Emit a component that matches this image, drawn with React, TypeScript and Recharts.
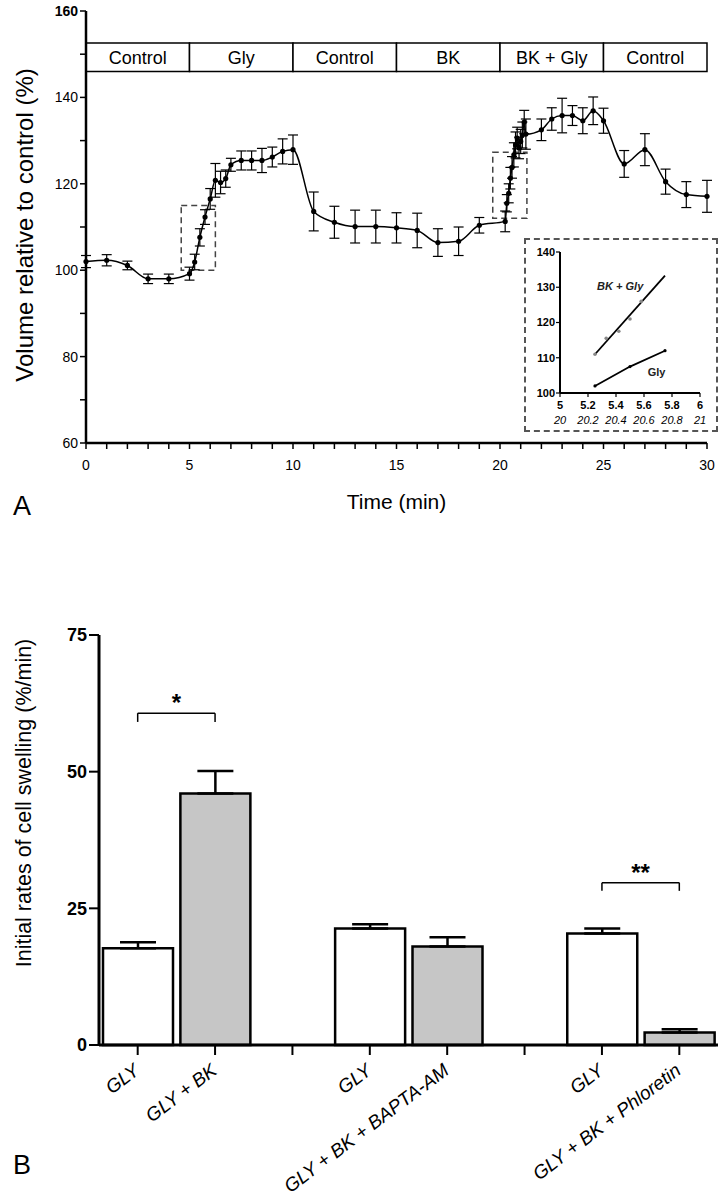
import {
  LineChart,
  Line,
  XAxis,
  YAxis,
  ErrorBar,
  ReferenceArea,
  ReferenceDot,
  ReferenceLine,
  BarChart,
  Bar,
  Cell,
} from "recharts";

// ---------------------------------------------------------------------------
// Panel A data: cell volume over time
// ---------------------------------------------------------------------------

const timeMin = [
  0, 1, 2, 3, 4, 5, 5.25, 5.5, 5.75, 6, 6.25, 6.5, 6.75, 7, 7.5, 8, 8.5, 9, 9.5, 10,
  11, 12, 13, 14, 15, 16, 17, 18, 19,
  20.25, 20.33, 20.42, 20.5, 20.58, 20.67, 20.75, 20.83, 20.92, 21, 21.08, 21.17, 21.25,
  22, 22.5, 23, 23.5, 24, 24.5, 25, 26, 27, 28, 29, 30,
];
const volumePct = [
  102.0, 102.3, 101.1, 98.0, 98.0, 99.2, 101.9, 107.6, 112.3, 116.5, 120.8, 120.3, 121.2, 124.4,
  125.4, 125.4, 125.4, 126.2, 127.5, 127.9,
  113.6, 111.1, 110.1, 110.1, 109.8, 109.2, 106.4, 106.7, 110.4,
  111.3, 115.5, 117.8, 121.3, 123.8, 126.7, 129.0, 130.6, 128.3, 129.8, 131.3, 134.3, 131.5,
  132.5, 135.0, 135.8, 135.8, 134.6, 136.9, 134.6, 124.6, 127.9, 120.5, 117.5, 117.1,
];
const volumeSem = [
  1.4, 1.3, 1.0, 1.1, 1.1, 1.5, 1.8, 2.0, 1.7, 2.4, 3.9, 2.6, 2.0, 1.5,
  2.2, 2.2, 2.8, 2.3, 2.9, 3.4,
  4.5, 3.7, 3.8, 3.8, 3.5, 4.0, 3.2, 3.3, 1.8,
  2.4, 2.0, 2.2, 2.5, 2.5, 2.8, 3.0, 2.5, 2.5, 2.8, 3.0, 2.7, 3.5,
  2.5, 2.6, 4.0, 2.3, 3.0, 3.2, 2.9, 3.1, 3.7, 2.9, 3.0, 3.7,
];

const conditionNames = ["Control", "Gly", "Control", "BK", "BK + Gly", "Control"];
const conditionStarts = [0, 5, 10, 15, 20, 25];
const conditionEnds = [5, 10, 15, 20, 25, 30];

const xTicksA = Array.from({ length: 31 }, (_, i) => i);
const yTicksA = [60, 70, 80, 90, 100, 110, 120, 130, 140, 150, 160];

// inset: linear fits of the initial swelling phase
const insetXTicks = [5, 5.2, 5.4, 5.6, 5.8, 6];
const insetXTicksBk = ["20", "20.2", "20.4", "20.6", "20.8", "21"];
const insetYTicks = [100, 110, 120, 130, 140];
const glyT = [5.25, 5.5, 5.75];
const glyV = [102, 107.5, 112];
const bkGlyFitT = [5.25, 5.75];
const bkGlyFitV = [111, 133.3];
const bkGlyRawT = [5.25, 5.33, 5.42, 5.5, 5.58];
const bkGlyRawV = [111, 115.5, 117.5, 121, 126];

// ---------------------------------------------------------------------------
// Panel B data: initial swelling rates
// ---------------------------------------------------------------------------

const barIds = ["c1", "c2", "c3", "c4", "c5", "c6", "c7", "c8"];
const barLabels = ["GLY", "GLY + BK", "", "GLY", "GLY + BK + BAPTA-AM", "", "GLY", "GLY + BK + Phloretin"];
const swellRate = [17.7, 46.0, null, 21.3, 18.0, null, 20.4, 2.3];
const swellSem = [1.1, 4.1, null, 0.8, 1.7, null, 0.9, 0.6];
const withBk = [false, true, false, false, true, false, false, true];

const FONT = "'Liberation Sans', Arial, sans-serif";
const NARROW = "'Liberation Sans Narrow', 'Liberation Sans', Arial, sans-serif";

const lineData = timeMin.map((t, i) => ({ t, v: volumePct[i], e: volumeSem[i] }));
const glyData = glyT.map((t, i) => ({ t, v: glyV[i] }));
const bkFitData = bkGlyFitT.map((t, i) => ({ t, v: bkGlyFitV[i] }));
const bkRawData = bkGlyRawT.map((t, i) => ({ t, v: bkGlyRawV[i] }));
const barData = barIds.map((id, i) => ({
  id,
  rate: swellRate[i],
  err: swellSem[i] == null ? null : [0, swellSem[i]],
}));

function YTickA(props: any) {
  const { x, y, payload } = props;
  const v = payload.value;
  if (v % 20 !== 0) return null;
  return (
    <text x={x} y={y} dy="0.36em" textAnchor="end" fontSize={14} fontFamily={NARROW}
      fontWeight={v === 160 ? "bold" : "normal"} fill="#000">
      {v}
    </text>
  );
}

function InsetXTick(props: any) {
  const { x, y, payload, index } = props;
  return (
    <g>
      <text x={x} y={y + 3} dy="0.7em" textAnchor="middle" fontSize={11} fontWeight="bold" fontFamily={FONT} fill="#000">
        {payload.value}
      </text>
      <text x={x} y={y + 18} dy="0.7em" textAnchor="middle" fontSize={11} fontStyle="italic" fontFamily={FONT} fill="#000">
        {insetXTicksBk[index]}
      </text>
    </g>
  );
}

function BarTick(props: any) {
  const { x, y, index } = props;
  const label = barLabels[index];
  if (!label) return null;
  const ax = x + 3;
  const ay = y + 16;
  return (
    <text x={ax} y={ay} textAnchor="end" fontSize={19} fontStyle="italic" fontFamily={FONT} fill="#000"
      transform={`rotate(-37, ${ax}, ${ay})`}>
      {label}
    </text>
  );
}

export default function App() {
  return (
    <div style={{ position: "absolute", left: 0, top: 0, width: 726, height: 1200, background: "#fff", fontFamily: FONT }}>
      {/* Panel A */}
      <div style={{ position: "absolute", left: 0, top: 0 }}>
        <LineChart width={726} height={560} data={lineData} margin={{ top: 11, right: 19, bottom: 87, left: 0 }}>
          <XAxis
            dataKey="t"
            type="number"
            domain={[0, 30]}
            ticks={xTicksA}
            interval={0}
            tickFormatter={(v: number) => (v % 5 === 0 ? String(v) : "")}
            height={30}
            axisLine={{ stroke: "#000", strokeWidth: 2.5 }}
            tickLine={{ stroke: "#000", strokeWidth: 1.5 }}
            tickSize={6}
            tickMargin={11}
            tick={{ fill: "#000", fontSize: 14, fontFamily: NARROW }}
            label={{ value: "Time (min)", position: "bottom", offset: 21, fill: "#000", fontSize: 21, fontFamily: FONT }}
          />
          <YAxis
            type="number"
            domain={[60, 160]}
            ticks={yTicksA}
            interval={0}
            width={86}
            axisLine={{ stroke: "#000", strokeWidth: 2.5 }}
            tickLine={{ stroke: "#000", strokeWidth: 1.5 }}
            tickSize={6}
            tick={<YTickA />}
            label={{
              content: () => (
                <text x={24} y={225} transform="rotate(-90, 24, 225)" textAnchor="middle" dominantBaseline="central"
                  fontSize={24} fontFamily={FONT} fill="#000">
                  Volume relative to control (%)
                </text>
              ),
            }}
          />
          {conditionNames.map((name, i) => (
            <ReferenceArea
              key={`cond-${i}`}
              x1={conditionStarts[i]}
              x2={conditionEnds[i]}
              y1={146}
              y2={152.6}
              fill="#fff"
              fillOpacity={1}
              stroke="#000"
              strokeWidth={1.5}
              label={{ value: name, position: "center", fill: "#000", fontSize: 18, fontFamily: FONT }}
            />
          ))}
          <ReferenceArea x1={4.6} x2={6.25} y1={100} y2={115} fill="none" stroke="#444" strokeWidth={1.5} strokeDasharray="6 4" />
          <ReferenceArea x1={19.65} x2={21.3} y1={112} y2={127.3} fill="none" stroke="#444" strokeWidth={1.5} strokeDasharray="6 4" />
          <Line
            dataKey="v"
            type="monotone"
            stroke="#000"
            strokeWidth={1.5}
            dot={{ r: 2.6, fill: "#000", stroke: "#000", strokeWidth: 0 }}
            activeDot={false}
            isAnimationActive={false}
          >
            <ErrorBar dataKey="e" width={5} stroke="#000" strokeWidth={1.2} direction="y" />
          </Line>
        </LineChart>
      </div>

      {/* inset */}
      <div style={{ position: "absolute", left: 524, top: 238, width: 194, height: 194, border: "2px dashed #555", boxSizing: "border-box", background: "#fff" }}>
        <LineChart width={190} height={190} margin={{ top: 12, right: 16, bottom: 1, left: 0 }}>
          <XAxis
            dataKey="t"
            type="number"
            domain={[5, 6]}
            ticks={insetXTicks}
            interval={0}
            allowDataOverflow
            height={36}
            axisLine={{ stroke: "#000", strokeWidth: 2 }}
            tickLine={{ stroke: "#000", strokeWidth: 1.2 }}
            tickSize={4}
            tickMargin={1}
            tick={<InsetXTick />}
          />
          <YAxis
            type="number"
            domain={[100, 140]}
            ticks={insetYTicks}
            interval={0}
            allowDataOverflow
            width={34}
            axisLine={{ stroke: "#000", strokeWidth: 2 }}
            tickLine={{ stroke: "#000", strokeWidth: 1.2 }}
            tickSize={4}
            tickMargin={1}
            tick={{ fill: "#000", fontSize: 11, fontWeight: "bold", fontFamily: FONT }}
          />
          <Line data={glyData} dataKey="v" type="linear" stroke="#000" strokeWidth={1.8}
            dot={{ r: 1.6, fill: "#000", stroke: "none" }} activeDot={false} isAnimationActive={false} />
          <Line data={bkFitData} dataKey="v" type="linear" stroke="#000" strokeWidth={1.8}
            dot={false} activeDot={false} isAnimationActive={false} />
          <Line data={bkRawData} dataKey="v" type="linear" stroke="none"
            dot={{ r: 1.8, fill: "#888", stroke: "none" }} activeDot={false} isAnimationActive={false} />
          <ReferenceDot x={5.43} y={130.3} r={0} stroke="none" fill="none"
            label={{ value: "BK + Gly", position: "center", fontSize: 11, fontStyle: "italic", fontWeight: "bold", fill: "#222", fontFamily: FONT }} />
          <ReferenceDot x={5.69} y={106} r={0} stroke="none" fill="none"
            label={{ value: "Gly", position: "center", fontSize: 11, fontWeight: "bold", fill: "#222", fontFamily: FONT }} />
        </LineChart>
      </div>

      <div style={{ position: "absolute", left: 13, top: 492, fontSize: 27, lineHeight: "28px", fontFamily: FONT }}>A</div>

      {/* Panel B */}
      <div style={{ position: "absolute", left: 0, top: 600 }}>
        <BarChart width={726} height={600} data={barData} margin={{ top: 35, right: 8, bottom: 5, left: 0 }}>
          <XAxis
            dataKey="id"
            type="category"
            interval={0}
            height={150}
            axisLine={{ stroke: "#000", strokeWidth: 3 }}
            tickLine={{ stroke: "#000", strokeWidth: 2 }}
            tickSize={10}
            tickMargin={2}
            tick={<BarTick />}
          />
          <YAxis
            type="number"
            domain={[0, 75]}
            ticks={[0, 25, 50, 75]}
            interval={0}
            width={99}
            axisLine={{ stroke: "#000", strokeWidth: 3 }}
            tickLine={{ stroke: "#000", strokeWidth: 2 }}
            tickSize={10}
            tick={{ fill: "#000", fontSize: 18, fontWeight: "bold", fontFamily: NARROW }}
            label={{
              content: () => (
                <text x={24} y={203} transform="rotate(-90, 24, 203)" textAnchor="middle" dominantBaseline="central"
                  fontSize={21.5} fontFamily={FONT} fill="#000">
                  Initial rates of cell swelling (%/min)
                </text>
              ),
            }}
          />
          <Bar dataKey="rate" barSize={70} stroke="#000" strokeWidth={2.5} isAnimationActive={false}>
            {barData.map((d, i) => (
              <Cell key={d.id} fill={withBk[i] ? "#c6c6c6" : "#fff"} />
            ))}
            <ErrorBar dataKey="err" width={18} stroke="#000" strokeWidth={2.5} direction="y" />
          </Bar>
          <ReferenceLine segment={[{ x: "c1", y: 60.7 }, { x: "c2", y: 60.7 }]} stroke="#000" strokeWidth={1.5}
            label={{ value: "*", position: "top", offset: 2, fontSize: 24, fontWeight: "bold", fill: "#000" }} />
          <ReferenceLine segment={[{ x: "c1", y: 60.7 }, { x: "c1", y: 59.1 }]} stroke="#000" strokeWidth={1.5} />
          <ReferenceLine segment={[{ x: "c2", y: 60.7 }, { x: "c2", y: 59.1 }]} stroke="#000" strokeWidth={1.5} />
          <ReferenceLine segment={[{ x: "c7", y: 29.7 }, { x: "c8", y: 29.7 }]} stroke="#000" strokeWidth={1.5}
            label={{ value: "**", position: "top", offset: 2, fontSize: 24, fontWeight: "bold", fill: "#000" }} />
          <ReferenceLine segment={[{ x: "c7", y: 29.7 }, { x: "c7", y: 28.2 }]} stroke="#000" strokeWidth={1.5} />
          <ReferenceLine segment={[{ x: "c8", y: 29.7 }, { x: "c8", y: 28.2 }]} stroke="#000" strokeWidth={1.5} />
        </BarChart>
      </div>

      <div style={{ position: "absolute", left: 13, top: 1151, fontSize: 27, lineHeight: "28px", fontFamily: FONT }}>B</div>
    </div>
  );
}
